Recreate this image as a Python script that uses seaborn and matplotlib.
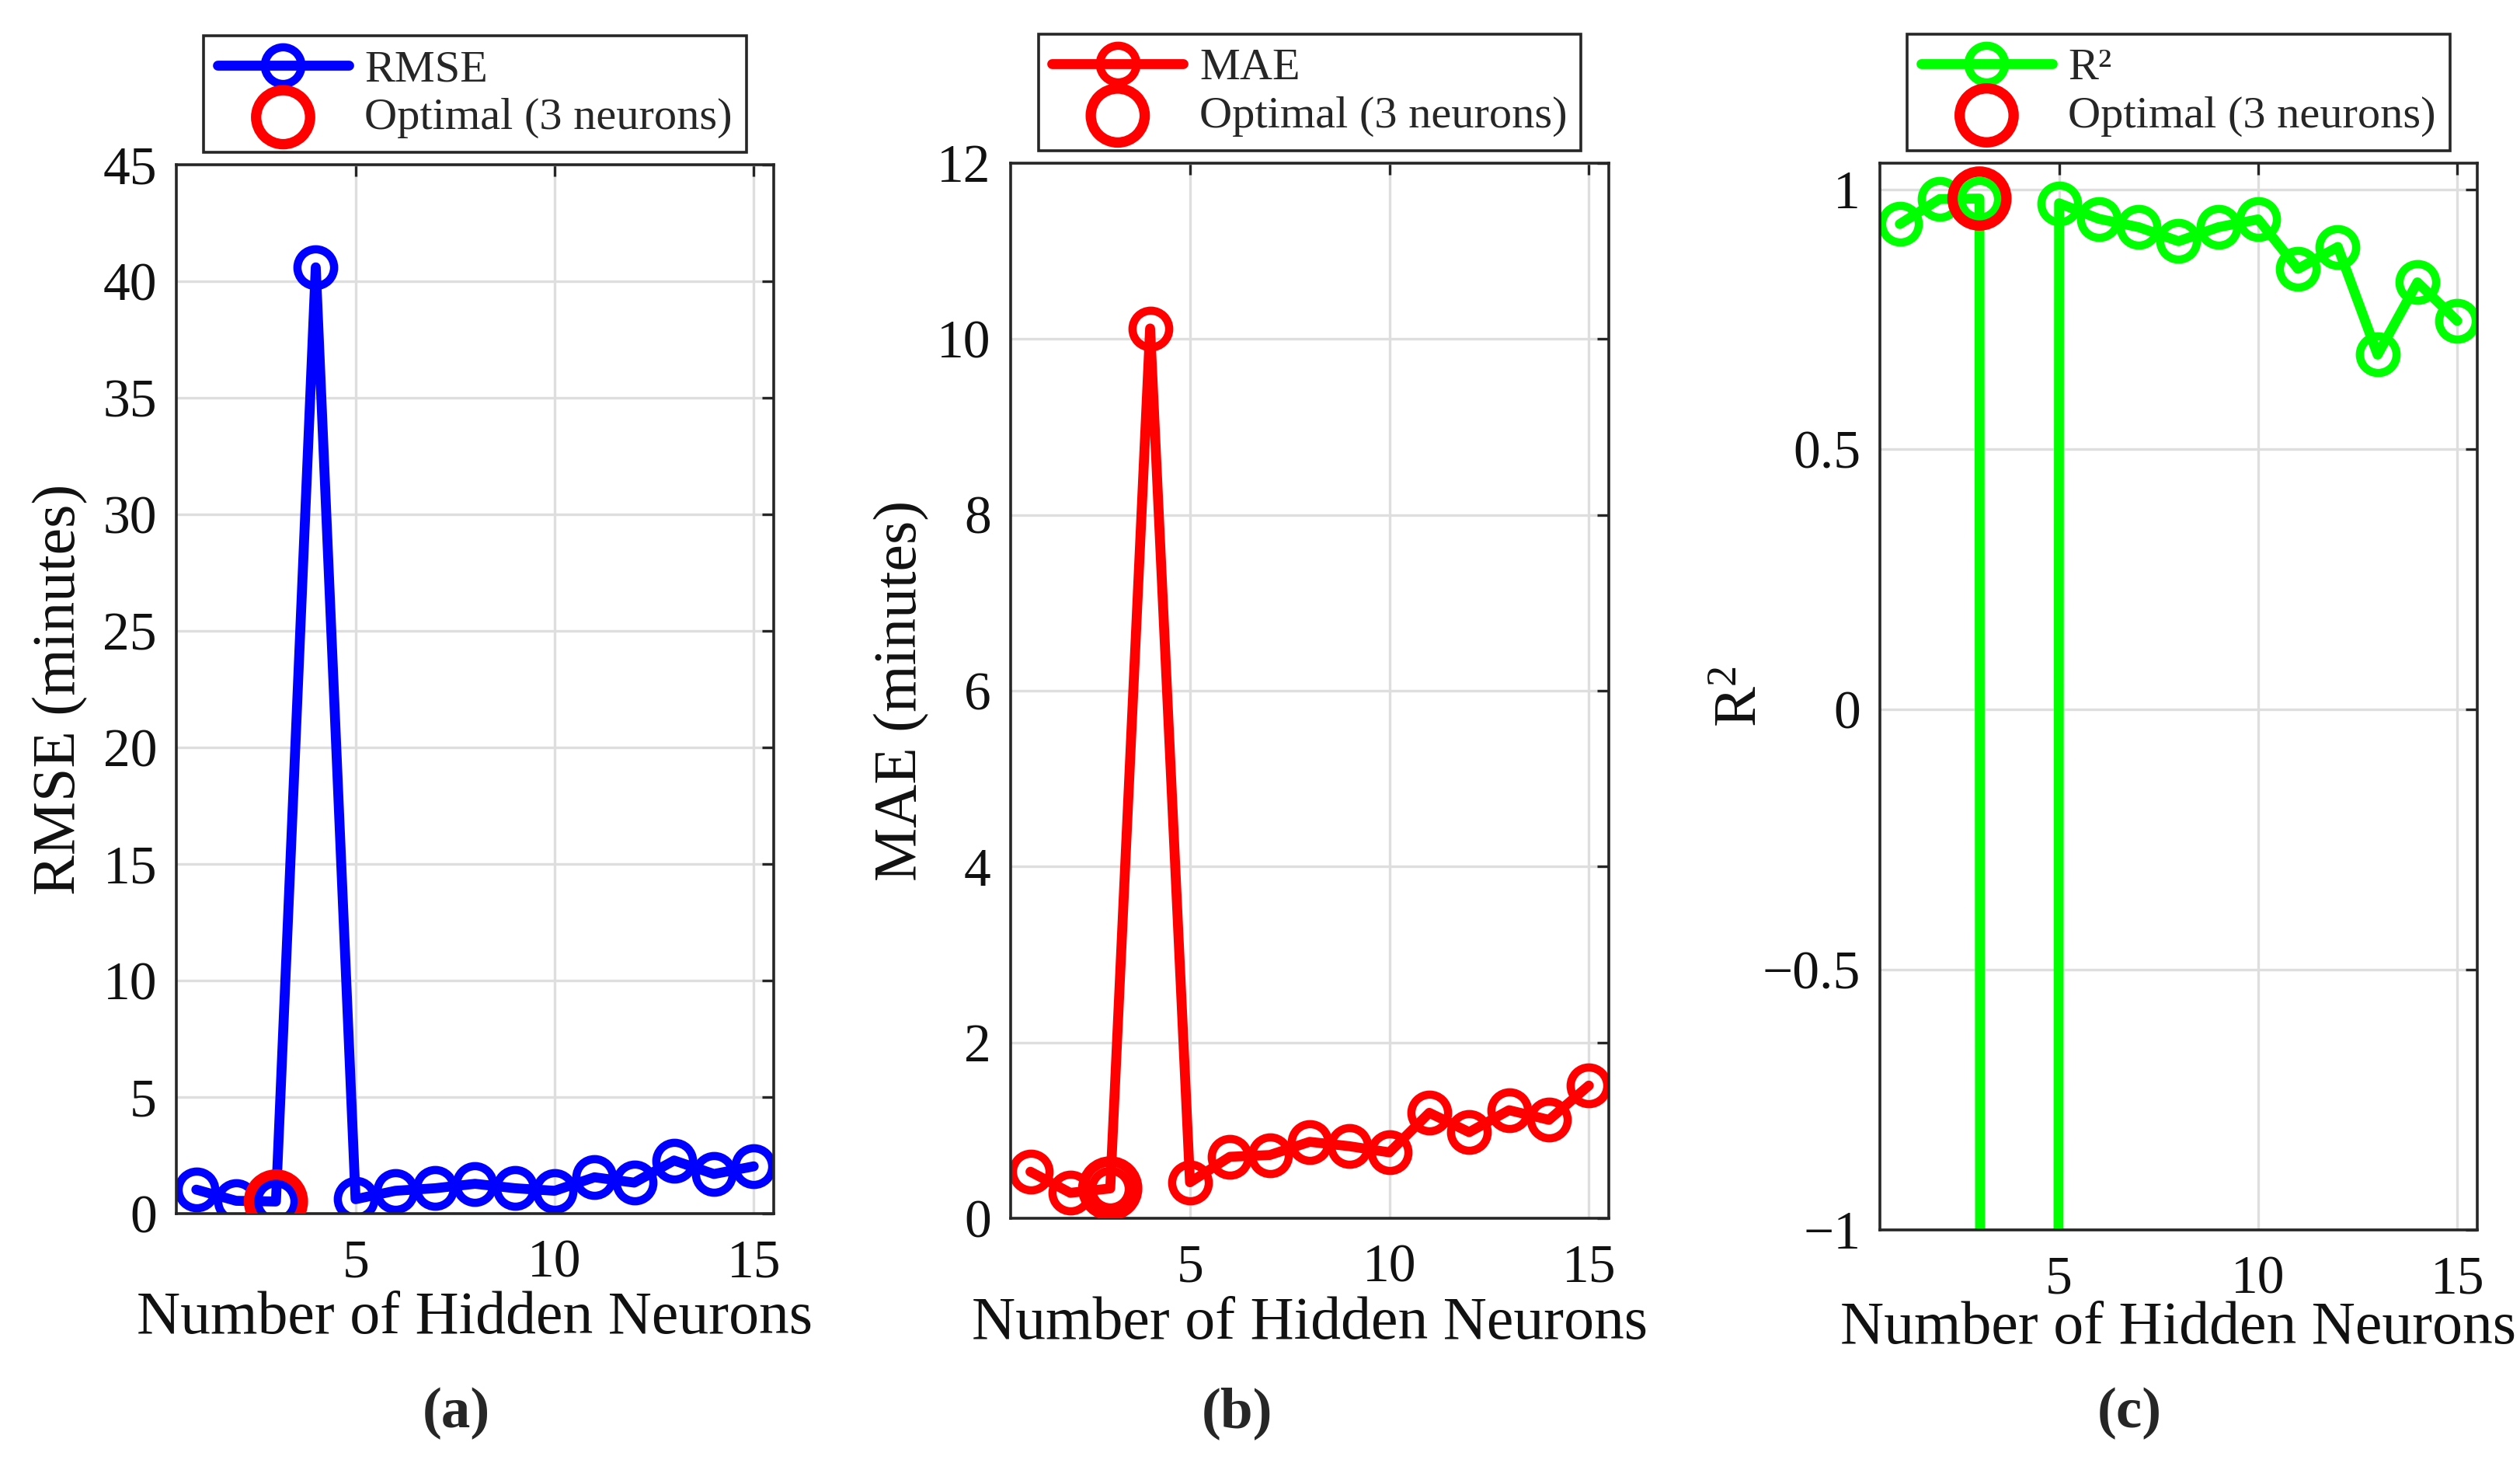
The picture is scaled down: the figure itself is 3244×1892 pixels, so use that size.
import numpy as np
import pandas as pd
import matplotlib
matplotlib.use("Agg")
import matplotlib.pyplot as plt
import seaborn as sns

# ---- data ----
neurons = list(range(1, 16))
rmse = [1.03, 0.55, 0.52, 40.6, 0.62, 0.98, 1.09, 1.28, 1.09, 0.98, 1.56, 1.33, 2.28, 1.70, 2.03]
mae = [0.53, 0.29, 0.34, 10.12, 0.41, 0.70, 0.72, 0.87, 0.82, 0.75, 1.20, 0.98, 1.23, 1.12, 1.51]
r2 = [0.933, 0.981, 0.982, -130.0, 0.973, 0.943, 0.927, 0.900, 0.927, 0.942, 0.847, 0.889, 0.682, 0.821, 0.747]
optimal_n = 3

xticks = [5, 10, 15]
rmse_yticks = [0, 5, 10, 15, 20, 25, 30, 35, 40, 45]
mae_yticks = [0, 2, 4, 6, 8, 10, 12]
r2_yticks = [-1, -0.5, 0, 0.5, 1]
r2_yticklabels = ["\u22121", "\u22120.5", "0", "0.5", "1"]

df = pd.DataFrame({"n": neurons, "RMSE": rmse, "MAE": mae, "R2": r2})

sns.set_theme(style="white")
plt.rcParams["font.family"] = ["Liberation Serif", "DejaVu Serif"]
plt.rcParams["mathtext.fontset"] = "custom"
plt.rcParams["mathtext.rm"] = "Liberation Serif"
plt.rcParams["mathtext.it"] = "Liberation Serif:italic"

fig = plt.figure(figsize=(16.22, 9.46), dpi=200)

# column, colour, legend label, ylabel, ylim, yticks, ticklabels, axes rect, ylabel x, xlabel y, tag x, tag
panels = [
    ("RMSE", "#0000ff", "RMSE", "RMSE (minutes)", (0, 45), rmse_yticks, None,
     [0.0700, 0.1744, 0.2370, 0.7135], -0.194, -0.100, 0.181, "(a)"),
    ("MAE", "#ff0000", "MAE", "MAE (minutes)", (0, 12), mae_yticks, None,
     [0.4010, 0.1712, 0.2374, 0.7178], -0.182, -0.100, 0.491, "(b)"),
    ("R2", "#00ff00", "R\u00b2", "R$^2$", (-1, 1.05), r2_yticks, r2_yticklabels,
     [0.7460, 0.1633, 0.2370, 0.7257], -0.233, -0.093, 0.845, "(c)"),
]

for col, color, leg_label, ylab, ylim, yt, ytl, rect, ylx, xly, tagx, tag in panels:
    ax = fig.add_axes(rect)
    sns.lineplot(data=df, x="n", y=col, ax=ax, color=color, linewidth=4.6,
                 marker="o", markersize=17, markerfacecolor="none",
                 markeredgecolor=color, markeredgewidth=3.8, legend=False,
                 errorbar=None)
    line = ax.lines[0]
    opt = df[df["n"] == optimal_n]
    sns.scatterplot(data=opt, x="n", y=col, ax=ax, marker="o", s=25 ** 2,
                    facecolor="none", edgecolor="#ff0000", linewidth=4.8,
                    zorder=5, legend=False)
    opt_pts = ax.collections[-1]

    ax.set_xlim(0.5, 15.5)
    ax.set_ylim(*ylim)
    ax.set_xticks(xticks)
    ax.set_yticks(yt)
    if ytl is not None:
        ax.set_yticklabels(ytl)
    ax.grid(True, color="#dedede", linewidth=1.2)
    ax.set_axisbelow(True)
    for sp in ax.spines.values():
        sp.set_color("#262626")
        sp.set_linewidth(1.3)
    ax.tick_params(direction="in", top=True, right=True, length=5.5, width=1.2,
                   color="#262626", labelsize=25, labelcolor="#111111")
    ax.tick_params(axis="x", pad=12)
    ax.tick_params(axis="y", pad=9)

    ax.set_xlabel("Number of Hidden Neurons", fontsize=28, va="center", color="#111111")
    ax.xaxis.set_label_coords(0.5, xly)
    ax.set_ylabel(ylab, fontsize=28, va="center", color="#111111")
    ax.yaxis.set_label_coords(ylx, 0.5)

    leg = ax.legend([line, opt_pts], [leg_label, "Optimal (3 neurons)"], loc="lower center",
                    bbox_to_anchor=(0.5, 1.012), fontsize=21, frameon=True,
                    fancybox=False, framealpha=1, edgecolor="#262626",
                    handlelength=2.9, handletextpad=0.35, borderpad=0.3,
                    labelspacing=0.15, numpoints=1, scatterpoints=1, borderaxespad=0)
    leg.get_frame().set_linewidth(1.3)

    fig.text(tagx, 0.0386, tag, fontsize=27, fontweight="bold", ha="center", va="center")

fig.savefig("out.png", dpi=200)
